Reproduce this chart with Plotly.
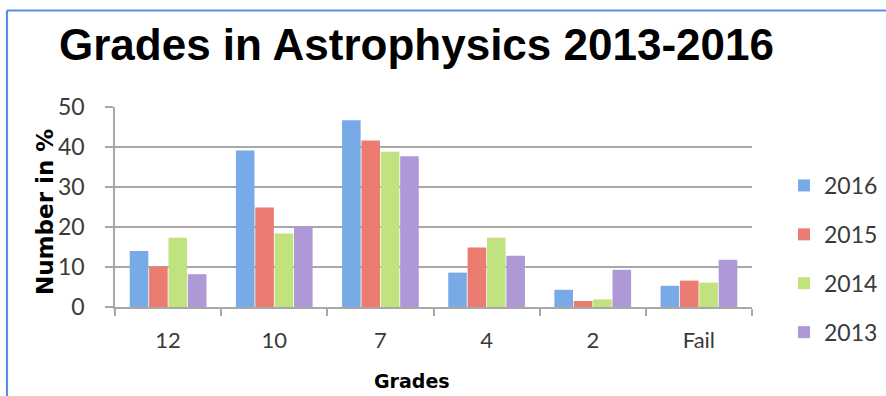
import plotly.graph_objects as go

# Grade distribution (% of students) per year
grades = ["12", "10", "7", "4", "2", "Fail"]
years = ["2016", "2015", "2014", "2013"]
pct_2016 = [14.0, 39.1, 46.7, 8.6, 4.3, 5.3]
pct_2015 = [10.1, 24.9, 41.6, 14.9, 1.5, 6.6]
pct_2014 = [17.3, 18.4, 38.8, 17.3, 1.9, 6.1]
pct_2013 = [8.2, 20.1, 37.7, 12.8, 9.3, 11.8]
y_ticks = [0, 10, 20, 30, 40, 50]

series = [pct_2016, pct_2015, pct_2014, pct_2013]
colors = ["#78aae8", "#ec7b72", "#c0e27f", "#ae98d6"]

FONT = "Lato"
TXT = "#3a3a3a"
GRID = "#a8a8a8"

fig = go.Figure()
for i, (yr, vals, col) in enumerate(zip(years, series, colors)):
    fig.add_trace(go.Bar(
        x=grades, y=vals, name=yr,
        marker=dict(color=col, line=dict(width=0)),
        legendgroup=yr,
    ))

# plot-area pixel geometry
W, H = 886, 396
L, R, T, B = 115, 134, 107, 89
pw, ph = W - L - R, H - T - B


def px(x):
    return (x - L) / pw


def py(y):
    return (H - B - y) / ph


fig.update_layout(
    width=W, height=H,
    margin=dict(l=L, r=R, t=T, b=B, autoexpand=False),
    paper_bgcolor="white", plot_bgcolor="white",
    barmode="group", bargap=0.27, bargroupgap=0.04,
    font=dict(family=FONT, color=TXT, size=21),
    title=dict(
        text="Grades in Astrophysics 2013-2016",
        font=dict(family="Liberation Sans", size=44, color="black", weight="bold"),
        xref="container", yref="container",
        x=59 / W, xanchor="left", y=1 - 45 / H, yanchor="middle",
    ),
    legend=dict(
        x=px(784), xanchor="left", y=py(164), yanchor="top",
        font=dict(family=FONT, size=23, color=TXT),
        tracegroupgap=16, itemwidth=30,
        bgcolor="rgba(0,0,0,0)",
    ),
    showlegend=True,
)

fig.update_xaxes(
    type="category", showgrid=False,
    showline=True, linecolor=GRID, linewidth=1.5,
    ticks="outside", tickson="boundaries", ticklen=7, tickcolor=GRID, tickwidth=1.5,
    tickfont=dict(family=FONT, size=22, color=TXT),
    ticklabelstandoff=13,
)
fig.update_yaxes(
    range=[0, 50], tickvals=y_ticks,
    showgrid=True, gridcolor=GRID, gridwidth=1.5,
    showline=True, linecolor=GRID, linewidth=1.5,
    ticks="outside", ticklen=8, tickcolor=GRID, tickwidth=1.5,
    tickfont=dict(family=FONT, size=23, color=TXT),
    ticklabelstandoff=16, zeroline=False,
)

# axis titles
fig.add_annotation(
    text="Number in %", textangle=-90, showarrow=False,
    xref="paper", yref="paper", x=px(45), y=py(212),
    xanchor="center", yanchor="middle",
    font=dict(family="DejaVu Sans", size=23, color="black", weight="bold"),
)
fig.add_annotation(
    text="Grades", showarrow=False,
    xref="paper", yref="paper", x=px(412), y=py(381),
    xanchor="center", yanchor="middle",
    font=dict(family="DejaVu Sans", size=19, color="black", weight="bold"),
)

# blue frame around the chart
frame = dict(type="line", xref="paper", yref="paper",
             line=dict(color="#5a8de6", width=2.2))
fig.add_shape(**frame, x0=px(7), y0=py(10.5), x1=px(W + 5), y1=py(10.5))
fig.add_shape(**frame, x0=px(7), y0=py(10.5), x1=px(7), y1=py(H + 5))

fig.write_html("out.html")
